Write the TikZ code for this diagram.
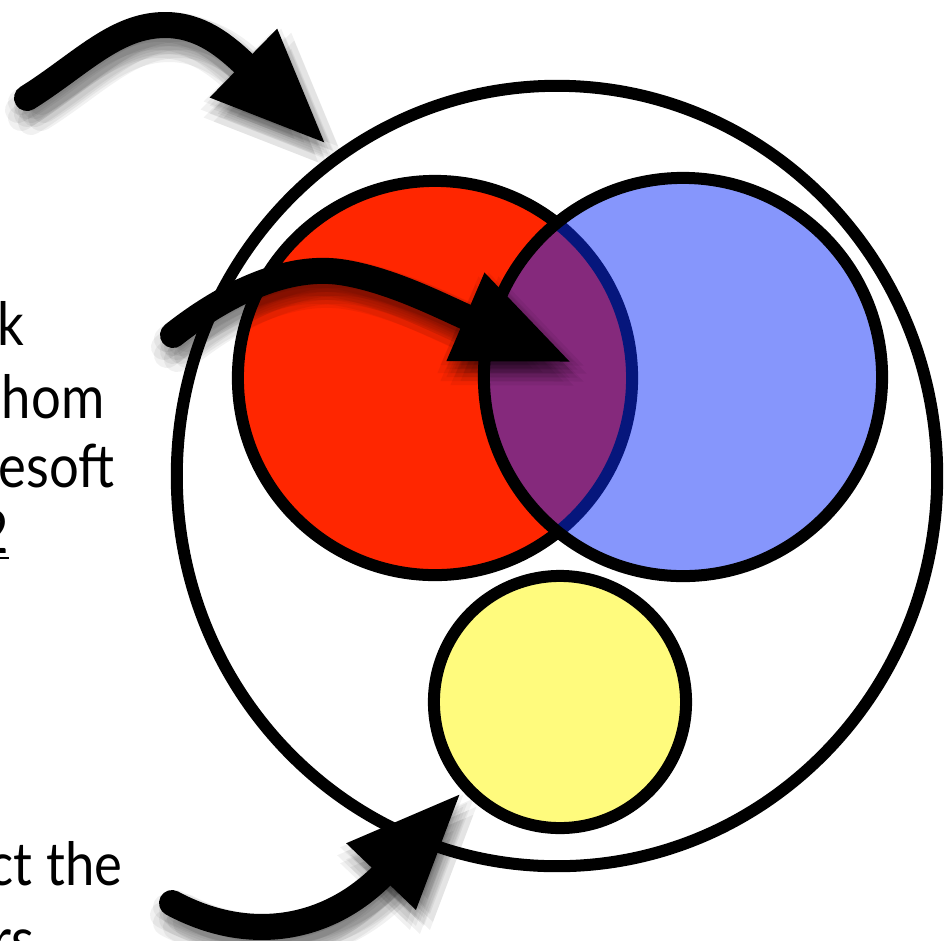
\documentclass[tikz,border=0pt]{standalone}
\usepackage{fontspec}
\setmainfont{Lato}[FakeStretch=0.88]
\usetikzlibrary{arrows.meta,shapes.geometric}
\definecolor{vennred}{RGB}{255,38,0}
\definecolor{vennblue}{RGB}{13,45,249}
\definecolor{vennyellow}{RGB}{255,251,125}

% soft shadow under a fat arrow
\newcommand\softshadow[1]{%
  \foreach \sx/\sy in {-6/4,14/4,-6/20,14/20,4/0,4/24,-9/12,17/12,4/12,0/8,8/16,8/8,0/16}{
    \draw[fatarrow, opacity=0.055, transform canvas={shift={(\sx,\sy)}}] #1;
  }%
}

\begin{document}
\begin{tikzpicture}[x=0.01cm, y=-0.01cm,
    ring/.style={circle, draw=black, line width=0.12cm, inner sep=0pt, minimum size=#1},
    fatarrow/.style={line width=0.26cm, line cap=round,
                     -{Triangle[length=1.17cm, width=0.88cm]}},
    cuttext/.style={anchor=base east, inner sep=0pt, font=\fontsize{17}{20}\selectfont},
]
\useasboundingbox (0,0) rectangle (944,941);
\clip (0,0) rectangle (944,941);

% outer set
\node[ellipse, draw=black, line width=0.12cm, inner sep=0pt,
      minimum width=7.6cm, minimum height=7.8cm] (outer) at (557,476) {};

% red, blue and yellow sets
\node[ring=3.94cm, fill=vennred] (red) at (435,378) {};
\node[ring=3.98cm, fill=vennblue, fill opacity=0.5] (blue) at (683,377) {};
\node[ring=2.52cm, fill=vennyellow] (yellow) at (560,702) {};

% cut-off text on the left
\node[cuttext] (l1) at (25,345) {k};
\node[cuttext] (l2) at (105,418) {hom};
\node[cuttext] (l3) at (115,487) {esoft};
\node[cuttext] (l4) at (10,553) {\underline{2}};
\node[cuttext] (l5) at (123,885) {ct the};
\node[cuttext] (l6) at (35,960) {rs};

% arrow ends
\coordinate (a1) at (27,98);
\coordinate (t1) at (327,145);
\coordinate (a2) at (173,335);
\coordinate (t2) at (573,363);
\coordinate (a3) at (172,903);
\coordinate (t3) at (462,792);

% arrows
\softshadow{(a1) .. controls (80,65) and (115,25) .. (165,25) .. controls (200,25) and (225,45) .. (t1)}
\draw[fatarrow] (a1) .. controls (80,65) and (115,25) .. (165,25) .. controls (200,25) and (225,45) .. (t1);

\softshadow{(a2) .. controls (230,290) and (290,265) .. (340,272) .. controls (390,279) and (445,308) .. (t2)}
\draw[fatarrow] (a2) .. controls (230,290) and (290,265) .. (340,272) .. controls (390,279) and (445,308) .. (t2);

\softshadow{(a3) .. controls (250,945) and (330,930) .. (t3)}
\draw[fatarrow] (a3) .. controls (250,945) and (330,930) .. (t3);

\end{tikzpicture}
\end{document}
